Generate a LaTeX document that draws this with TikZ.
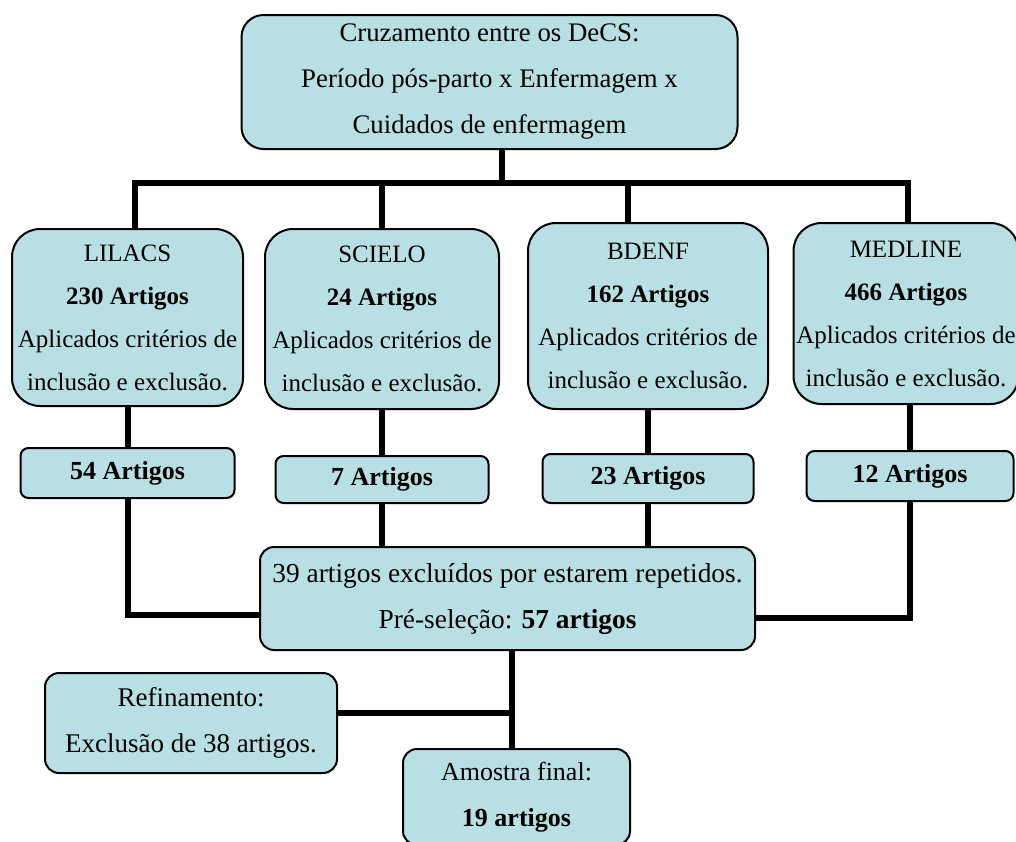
\documentclass[tikz,border=0pt]{standalone}
\usepackage{fontspec}
\setmainfont{Liberation Serif}
\usepackage{tikz}
\usetikzlibrary{positioning}
\usetikzlibrary{calc}
\definecolor{azul}{RGB}{184,223,227}
\tikzset{%
    caixa/.style={draw, line width=1pt, fill=azul, align=center, inner sep=0pt,
        font=\fontsize{13}{23}\selectfont},
    topo/.style={caixa, rounded corners=11pt, minimum width=248pt, minimum height=67pt,
        font=\fontsize{13.4}{23}\selectfont},
    base/.style={caixa, rounded corners=14pt, font=\fontsize{12.5}{21.5}\selectfont},
    total/.style={caixa, rounded corners=4pt},
    etapa/.style={caixa, rounded corners=7pt},
    liga/.style={line width=3pt},
}

\begin{document}
\begin{tikzpicture}[x=0.5pt,y=-0.5pt]
\useasboundingbox (0,0) rectangle (1016,841);
% busca inicial
\node (cruz) [topo] at (489.5,82) {Cruzamento entre os DeCS:\\Período pós-parto x Enfermagem x\\Cuidados de enfermagem};
% bases de dados
\node (lil) [base, minimum width=115.5pt, minimum height=88.5pt] at (127.5,317.5) {LILACS\\\textbf{230 Artigos}\\Aplicados critérios de\\inclusão e exclusão.};
\node (sci) [base, minimum width=117pt, minimum height=90pt] at (382,319) {SCIELO\\\textbf{24 Artigos}\\Aplicados critérios de\\inclusão e exclusão.};
\node (bde) [base, minimum width=120pt, minimum height=93pt] at (648,316) {BDENF\\\textbf{162 Artigos}\\Aplicados critérios de\\inclusão e exclusão.};
\node (med) [base, minimum width=112.5pt, minimum height=90.5pt] at (906,313.5) {MEDLINE\\\textbf{466 Artigos}\\Aplicados critérios de\\inclusão e exclusão.};
% selecionados
\node (n54) [total, minimum width=107pt, minimum height=25pt] at (127.5,473) {\textbf{54 Artigos}};
\node (n7) [total, minimum width=106.5pt, minimum height=23.5pt] at (382,479.5) {\textbf{7 Artigos}};
\node (n23) [total, minimum width=105.5pt, minimum height=24.5pt] at (648,478.5) {\textbf{23 Artigos}};
\node (n12) [total, minimum width=103.5pt, minimum height=25pt] at (910,476) {\textbf{12 Artigos}};
% pre-selecao e final
\node (pre) [etapa, minimum width=247.5pt, minimum height=51.5pt, font=\fontsize{13.7}{23}\selectfont] at (507.5,598.5) {39 artigos excluídos por estarem repetidos.\\Pré-seleção: \textbf{57 artigos}};
\node (ref) [etapa, minimum width=146pt, minimum height=50pt, font=\fontsize{13.5}{23}\selectfont] at (191,723) {Refinamento:\\Exclusão de 38 artigos.};
\node (fin) [etapa, minimum width=113.5pt, minimum height=48pt] at (516.5,797) {Amostra final:\\\textbf{19 artigos}};
\coordinate (bus) at (502,183);
\coordinate (tronco) at (512,713);
% ligacoes
\draw [liga] (cruz.south -| bus) -- (bus);
\foreach \b/\dx in {lil/3.75, sci/0, bde/-10, med/1}
    \draw [liga] ([xshift=\dx pt]\b.north) |- (bus);
\foreach \a/\b in {lil/n54, sci/n7, bde/n23}
    \draw [liga] (\a.south) -- (\b.north);
\draw [liga] (med.south -| n12.north) -- (n12.north);
\draw [liga] (n54.south) |- ([yshift=-8pt]pre.west);
\draw [liga] (n12.south) |- ([yshift=-9.5pt]pre.east);
\draw [liga] (n7.south) -- (pre.north -| n7.south);
\draw [liga] (n23.south) -- (pre.north -| n23.south);
\draw [liga] (pre.south -| tronco) -- (fin.north -| tronco);
\draw [liga] (ref.east |- tronco) -- (tronco);
\end{tikzpicture}
\end{document}
